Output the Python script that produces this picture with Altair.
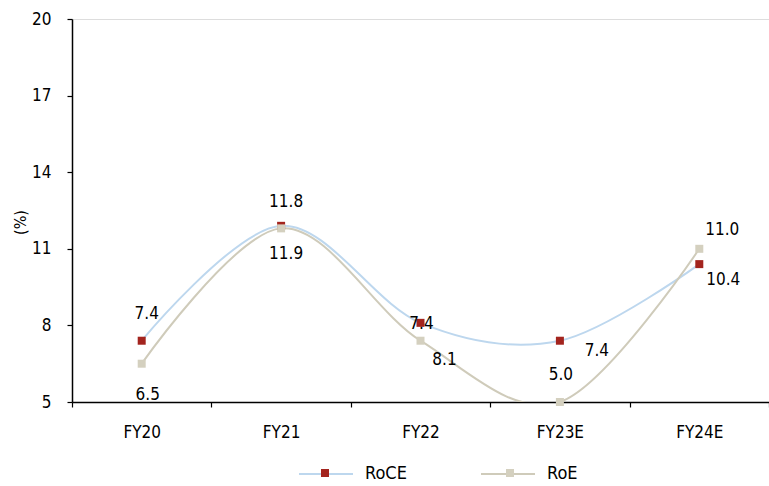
import altair as alt
import pandas as pd

# ---- data ----
years = ["FY20", "FY21", "FY22", "FY23E", "FY24E"]
roce = [7.4, 11.9, 8.1, 7.4, 10.4]
roe = [6.5, 11.8, 7.4, 5.0, 11.0]
series_names = ["RoCE", "RoE"]
y_ticks = [5, 8, 11, 14, 17, 20]

rows = []
for s, vals in zip(series_names, [roce, roe]):
    for yr, v in zip(years, vals):
        rows.append({"year": yr, "series": s, "value": v, "label": f"{v:.1f}"})
df = pd.DataFrame(rows)
# separate key for the marker legend so that it is not merged with the line legend
ZW = "\u200b"
df["series_m"] = df["series"] + ZW
marker_names = [s + ZW for s in series_names]

# ---- style ----
FONT = "Liberation Sans Narrow, Arial Narrow, DejaVu Sans Condensed, sans-serif"
line_colors = ["#BDD7EE", "#CFCBBA"]
marker_colors = ["#A3241E", "#D4D0BF"]

label_offsets = {
    ("RoCE", "FY20"): (5, -27), ("RoCE", "FY21"): (5, 28), ("RoCE", "FY22"): (24, 37),
    ("RoCE", "FY23E"): (37, 10), ("RoCE", "FY24E"): (24, 16),
    ("RoE", "FY20"): (6, 31), ("RoE", "FY21"): (5, -26), ("RoE", "FY22"): (1, -17),
    ("RoE", "FY23E"): (1, -27), ("RoE", "FY24E"): (23, -19),
}

W, H = 697, 383

x_enc = alt.X(
    "year:N", sort=years, bandPosition=0.5,
    scale=alt.Scale(type="band", domain=years, paddingInner=0, paddingOuter=0),
    axis=alt.Axis(title=None, labelAngle=0, tickBand="extent", tickSize=5,
                  labelPadding=17, labelFontSize=17, labelFont=FONT,
                  labelColor="#000", domainColor="#000", tickColor="#000",
                  domainWidth=1.5, tickWidth=1.2),
)
y_enc = alt.Y(
    "value:Q",
    scale=alt.Scale(domain=[5, 20], nice=False, zero=False),
    axis=alt.Axis(values=y_ticks, grid=False, title="(%)", tickSize=5,
                  labelPadding=16, labelFontSize=17, labelFont=FONT,
                  labelColor="#000", domainColor="#000", tickColor="#000",
                  domainWidth=1.5, tickWidth=1.2,
                  titleFont=FONT, titleFontSize=16, titleFontWeight="normal",
                  titleColor="#000", titleX=-52, titleY=203, titleAngle=-90,
                  titleAlign="center", titleBaseline="middle"),
)

base = alt.Chart(df)

lines = base.mark_line(interpolate="cardinal", strokeWidth=2, clip=True).encode(
    x=x_enc, y=y_enc,
    color=alt.Color("series:N", sort=series_names,
                    scale=alt.Scale(domain=series_names, range=line_colors),
                    legend=alt.Legend(orient="none", legendX=226, legendY=427,
                                      direction="horizontal", title=None,
                                      symbolType="stroke", symbolSize=2916,
                                      symbolStrokeWidth=2, labelFontSize=18,
                                      labelFont=FONT, labelColor="#000",
                                      labelOffset=11, columnPadding=70, padding=0)),
)

points = base.mark_point(
    shape="square", filled=True, size=64, opacity=1, strokeWidth=0
).encode(
    x=x_enc, y=y_enc,
    fill=alt.Fill("series_m:N", sort=marker_names,
                  scale=alt.Scale(domain=marker_names, range=marker_colors),
                  legend=alt.Legend(orient="none", legendX=244, legendY=445,
                                    direction="horizontal", title=None,
                                    symbolType="square", symbolSize=64,
                                    symbolStrokeWidth=0, labelFontSize=18,
                                    labelFont=FONT, labelExpr="''",
                                    labelOffset=0, columnPadding=167, padding=0)),
)

layers = [lines, points]
for (s, yr), (dx, dy) in label_offsets.items():
    layers.append(
        base.transform_filter(
            (alt.datum.series == s) & (alt.datum.year == yr)
        ).mark_text(dx=dx, dy=dy, fontSize=17, font=FONT, color="#000",
                    align="center", baseline="middle").encode(
            x=x_enc, y=y_enc, text="label:N")
    )

chart = alt.layer(*layers).properties(
    width=W, height=H,
    autosize=alt.AutoSizeParams(type="none"),
    padding={"left": 72, "top": 19, "right": 0, "bottom": 84},
).configure_view(stroke=None).configure(background="white")

chart.save("out.html", embed_options={"renderer": "svg", "actions": False})
